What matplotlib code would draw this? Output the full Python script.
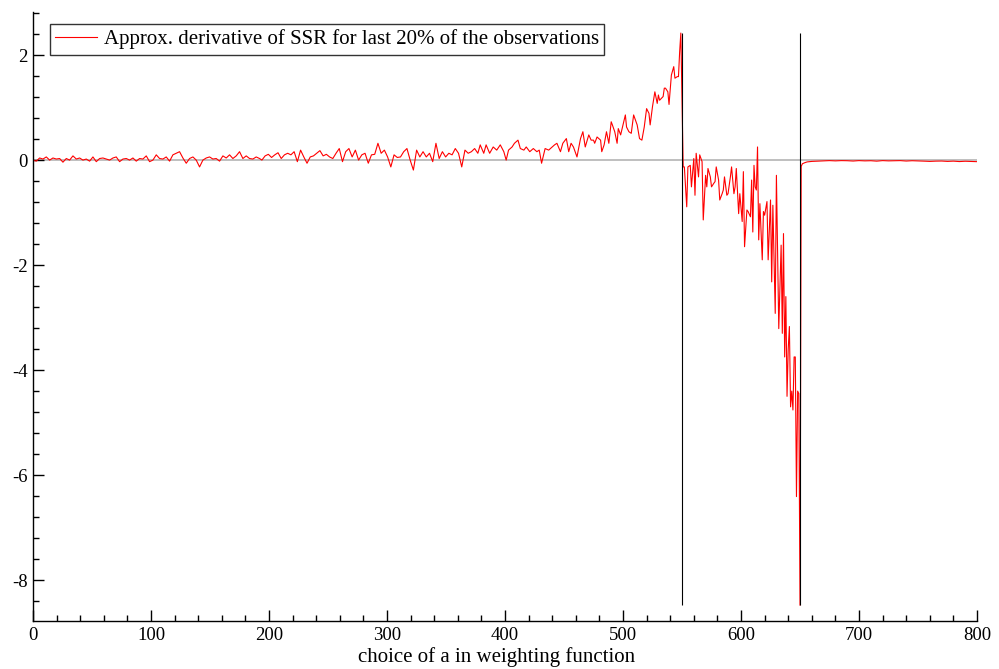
import numpy as np
import matplotlib.pyplot as plt

# -----------------------------
# derivative of SSR, read off in stretches
# -----------------------------

# 0 .. 192 : flat, tiny noise
d_flat1 = [0.00, -0.02, 0.04, 0.02, 0.06, 0.00, 0.04, 0.02, 0.03, -0.04,
           0.03, 0.00, 0.08, 0.02, 0.04, 0.00, 0.02, -0.02, 0.06, -0.03,
           0.03, 0.04, 0.02, 0.00, 0.04, 0.06, -0.03, 0.02, 0.03, 0.00,
           0.04, -0.02, 0.03, 0.02, 0.08, -0.03, 0.00, 0.10, 0.03, 0.02,
           0.06, -0.02, 0.10, 0.13, 0.16, 0.04, -0.06, 0.03, 0.06, 0.00,
           -0.13, 0.00, 0.04, 0.06, 0.02, 0.03, -0.02, 0.08, 0.04, 0.10,
           0.03, 0.08, 0.16, 0.03, 0.08, 0.03, 0.02, 0.06, 0.03]

# 194 .. 377 : slightly above zero
d_flat2 = [0.00, 0.08, 0.11, 0.05, 0.10, 0.14, 0.03, 0.10, 0.13, 0.10,
           0.16, -0.03, 0.19, 0.06, -0.06, 0.06, 0.08, 0.13, 0.18, 0.08,
           0.11, 0.06, 0.03, 0.13, 0.22, -0.03, 0.16, 0.22, 0.06, 0.19,
           0.00, 0.10, 0.13, -0.06, 0.10, 0.11, 0.32, 0.13, 0.19, 0.06,
           -0.13, 0.10, 0.05, 0.06, 0.16, 0.22, 0.00, -0.19, 0.19, 0.06,
           0.16, 0.06, 0.13, -0.03, 0.32, 0.03, 0.16, 0.06, 0.13, 0.10,
           0.22, 0.13, -0.13, 0.19, 0.13, 0.16, 0.22, 0.13]

# 379 .. 549 : rising part
a_rise = [379, 382, 384, 387, 390, 393, 396, 399, 401, 403, 406, 408, 411,
          413, 416, 418, 421, 424, 427, 429, 431, 434, 437, 440, 442, 444,
          447, 449, 452, 454, 456, 458, 461, 464, 466, 468, 471, 473, 475,
          476, 478, 481, 482, 484, 486, 488, 490, 491, 493, 495, 496, 498,
          500, 502, 503, 505, 507, 509, 511, 512, 514, 516, 518, 520, 522,
          523, 525, 527, 529, 530, 531, 534, 535, 536, 538, 539, 541, 543,
          544, 546, 547, 548, 549]
d_rise = [0.29, 0.13, 0.29, 0.13, 0.25, 0.19, 0.29, 0.16, 0.00, 0.19, 0.25,
          0.32, 0.38, 0.22, 0.19, 0.25, 0.16, 0.22, 0.16, 0.19, -0.06, 0.22,
          0.19, 0.25, 0.29, 0.32, 0.16, 0.32, 0.41, 0.16, 0.32, 0.25, 0.06,
          0.41, 0.54, 0.25, 0.48, 0.38, 0.38, 0.32, 0.44, 0.38, 0.16, 0.29,
          0.54, 0.32, 0.73, 0.67, 0.54, 0.32, 0.60, 0.48, 0.67, 0.86, 0.63,
          0.54, 0.51, 0.86, 0.73, 0.67, 0.41, 0.38, 0.63, 0.98, 0.89, 0.67,
          1.02, 1.30, 1.08, 1.24, 1.14, 1.21, 1.37, 1.37, 1.30, 1.06, 1.62,
          1.78, 1.56, 1.59, 1.59, 2.06, 2.42]

# 551 .. 650 : falling part
a_drop = [551, 552, 554, 555, 557, 558, 560, 561, 562, 564, 565, 567, 568,
          570, 571, 572, 574, 575, 577, 578, 579, 581, 582, 584, 585, 586,
          588, 589, 591, 592, 594, 595, 596, 598, 599, 601, 602, 603, 605,
          606, 608, 609, 610, 611, 612, 613, 614, 615, 616, 618, 619, 620,
          622, 623, 625, 626, 627, 629, 630, 632, 634, 635, 636, 637, 638,
          639, 640, 641, 642, 643, 644, 645, 646, 647, 648, 649, 650]
d_drop = [-0.13, -0.13, -0.89, -0.13, -0.10, -0.51, 0.03, -0.67, 0.13, -0.32,
          0.10, -0.03, -1.14, -0.29, -0.51, -0.16, -0.32, -0.51, -0.44, -0.41,
          -0.13, -0.38, -0.76, -0.64, -0.57, -0.32, -0.67, -0.64, -0.32, -0.13,
          -0.64, -0.51, -0.16, -1.02, -0.64, -1.17, -0.22, -1.65, -0.95, -0.98,
          -1.08, -0.38, -1.37, -0.10, -0.51, -0.57, 0.25, -1.52, -0.83, -1.90,
          -0.98, -1.05, -0.79, -1.90, -0.76, -2.32, -0.86, -2.92, -0.29, -3.21,
          -1.62, -3.30, -1.40, -3.75, -2.60, -4.50, -3.60, -3.17, -4.70, -4.40,
          -4.76, -3.75, -3.75, -6.41, -4.40, -4.45, -8.48]

# 651 .. 800 : back to (just under) zero
a_tail = [651, 652, 654, 656, 660, 665, 670, 675, 680, 685, 690, 695, 700,
          705, 710, 715, 720, 725, 730, 735, 740, 745, 750, 755, 760, 765,
          770, 775, 780, 785, 790, 795, 800]
d_tail = [-0.12, -0.07, -0.05, -0.035, -0.025, -0.02, -0.015, -0.01, -0.015,
          -0.01, -0.012, -0.018, -0.01, -0.015, -0.012, -0.02, -0.01, -0.015,
          -0.012, -0.01, -0.018, -0.012, -0.015, -0.02, -0.025, -0.02, -0.018,
          -0.025, -0.02, -0.028, -0.022, -0.025, -0.03]

a = np.concatenate([np.linspace(0, 192, len(d_flat1)),
                    np.linspace(194, 377, len(d_flat2)),
                    a_rise, a_drop, a_tail])
d = np.concatenate([d_flat1, d_flat2, d_rise, d_drop, d_tail])

breaks = [550, 650]

# -----------
# plot
# -----------
plt.rcParams["font.family"] = ["Liberation Serif", "DejaVu Serif"]

fig = plt.figure(figsize=(9.99, 6.69), dpi=100)
ax = fig.add_axes([0.033, 0.0717, 0.945, 0.9103])

ax.axhline(0, color="#b4b4b4", lw=1.2, zorder=1)
ax.plot(a, d, color="#ff0000", lw=0.8, zorder=2,
        label="Approx. derivative of SSR for last 20% of the observations")
ax.vlines(breaks, d.min(), d.max(), color="black", lw=0.8, zorder=3)

ax.set_xlim(0, 800)
ax.set_ylim(-8.78, 2.82)
ax.set_xticks(np.arange(0, 801, 100))
ax.set_xticks(np.arange(0, 801, 20), minor=True)
ax.set_yticks(np.arange(-8, 3, 2))
ax.set_yticks(np.arange(-8.4, 2.81, 0.4), minor=True)
ax.set_yticklabels([str(v) for v in range(-8, 3, 2)])

ax.spines["top"].set_visible(False)
ax.spines["right"].set_visible(False)
for s in ["left", "bottom"]:
    ax.spines[s].set_linewidth(1.0)

ax.tick_params(which="major", direction="in", length=8, width=1,
               labelsize=13.5, pad=4)
ax.tick_params(which="minor", direction="in", length=4, width=1)

ax.set_xlabel("choice of a in weighting function", fontsize=15)
ax.xaxis.set_label_coords(0.4915, -0.043)

leg = ax.legend(loc="upper left", bbox_to_anchor=(0.018, 0.98),
                borderaxespad=0, fontsize=15, fancybox=False,
                handlelength=2.0, handletextpad=0.34, borderpad=0.25,
                framealpha=1)
leg.get_frame().set_edgecolor("#333333")
leg.get_frame().set_linewidth(1.0)

fig.savefig("out.png", dpi=100)
